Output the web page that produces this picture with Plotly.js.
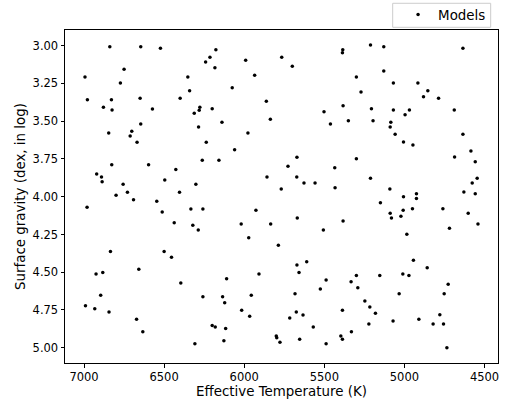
<!DOCTYPE html>
<html>
<head>
<meta charset="utf-8">
<script src="https://cdn.plot.ly/plotly-3.0.1.min.js"></script>
<style>html,body{margin:0;padding:0;background:#fff;}#chart{width:507px;height:403px;}</style>
</head>
<body>
<div id="chart"></div>
<script>
// Effective temperature (K) of each model
const teff = [
  6839, 6646, 6523, 6214, 6241, 6183, 6750, 6994, 6352, 6773,
  6341, 6979, 6829, 6650, 6400, 6879, 6825, 6573, 6277, 6281,
  6312, 6200, 6646, 6285, 6846, 6702, 6712, 6669, 6237, 6262,
  6827, 6597, 6427, 6921, 6891, 6887, 6756, 6496, 6302,
  6800, 6729, 6691, 6404, 6981, 6546, 6512, 6333, 6258, 6437,
  6321, 6287, 6835, 6500, 6454, 6925, 6883, 6658, 6396, 6896,
  6258, 6991, 6933, 6844, 6672, 6633, 6200, 6308,
  6177, 5991, 5766, 5700, 5385, 5387, 5935, 6075, 5862, 5502,
  5383, 6139, 5837, 5462, 5350, 5977, 6060, 6158, 5671, 5727,
  5435, 5858, 5672, 5627, 5558, 5769, 5433,
  5927, 6019, 5835, 5669, 5383, 5506, 5972, 5787, 5671, 5610,
  5658, 6110, 5908, 5489, 5333, 6135, 6122, 5956, 5683, 5525,
  6016, 5966, 5675, 5633, 5716, 5387, 6181, 6116, 5569, 6127,
  5800, 5797, 5777, 5654, 5489, 5397, 5387, 5331,
  5212, 5129, 4635, 5129, 5300, 5069, 4916, 5271, 4854, 4881,
  4787, 5206, 5069, 4969, 4996, 4689, 5196, 5085, 5089, 5058,
  4635, 5006, 4947, 5300, 4687, 4585, 4558, 5212, 4546, 4577, 5091,
  5006, 4925, 4925, 4629, 4558, 5150, 5089, 5081, 5008, 5022,
  4950, 4760, 4602, 4541, 4719, 4985, 4944, 4858, 5300, 5291,
  5154, 5010, 4972, 4727, 4752, 5033, 5247, 5216, 5181, 5222,
  5071, 4910, 4779, 4821, 4756, 4735
];
// Surface gravity (dex, log g) of each model
const logg = [
  3.007, 3.007, 3.017, 3.077, 3.108, 3.146, 3.156, 3.207, 3.207, 3.247,
  3.298, 3.358, 3.358, 3.348, 3.348, 3.408, 3.426, 3.419, 3.408, 3.428,
  3.448, 3.417, 3.519, 3.538, 3.578, 3.567, 3.598, 3.640, 3.640, 3.759,
  3.788, 3.788, 3.819, 3.850, 3.870, 3.901, 3.918, 3.889, 3.918,
  3.991, 3.971, 4.020, 3.971, 4.070, 4.030, 4.101, 4.081, 4.081, 4.172,
  4.189, 4.221, 4.362, 4.362, 4.401, 4.512, 4.501, 4.481, 4.572, 4.653,
  4.662, 4.722, 4.742, 4.764, 4.812, 4.894, 4.852, 4.974,
  3.026, 3.097, 3.077, 3.136, 3.026, 3.046, 3.196, 3.278, 3.368, 3.437,
  3.397, 3.507, 3.487, 3.519, 3.497, 3.578, 3.689, 3.759, 3.739, 3.799,
  3.808, 3.870, 3.870, 3.909, 3.909, 3.949, 3.940,
  4.090, 4.181, 4.181, 4.141, 4.161, 4.221, 4.272, 4.322, 4.452, 4.430,
  4.501, 4.543, 4.512, 4.552, 4.563, 4.662, 4.702, 4.653, 4.642, 4.611,
  4.752, 4.792, 4.764, 4.783, 4.803, 4.752, 4.863, 4.872, 4.863, 4.954,
  4.923, 4.934, 4.964, 4.944, 4.974, 4.923, 4.944, 4.894,
  2.995, 3.007, 3.017, 3.168, 3.207, 3.247, 3.247, 3.307, 3.298, 3.338,
  3.348, 3.417, 3.426, 3.426, 3.457, 3.426, 3.497, 3.507, 3.538, 3.587,
  3.587, 3.638, 3.658, 3.748, 3.737, 3.697, 3.768, 3.878, 3.878, 3.909, 3.949,
  4.000, 3.980, 4.011, 3.969, 3.980, 4.040, 4.110, 4.141, 4.090, 4.130,
  4.079, 4.079, 4.110, 4.181, 4.209, 4.249, 4.421, 4.470, 4.521, 4.603,
  4.521, 4.512, 4.521, 4.580, 4.642, 4.642, 4.691, 4.730, 4.772, 4.843,
  4.823, 4.812, 4.781, 4.843, 4.843, 5.000
];
const xTicks = [7000, 6500, 6000, 5500, 5000, 4500];
const yTicks = [3.00, 3.25, 3.50, 3.75, 4.00, 4.25, 4.50, 4.75, 5.00];
const seriesName = 'Models';
const xLabel = 'Effective Temperature (K)';
const yLabel = 'Surface gravity (dex, in log)';

const FONT = 'DejaVu Sans, Liberation Sans, sans-serif';

const trace = {
  x: teff,
  y: logg,
  type: 'scatter',
  mode: 'markers',
  name: seriesName,
  marker: {color: '#000000', size: 3.5, line: {width: 0}},
  showlegend: true,
  hoverinfo: 'x+y'
};

const axisCommon = {
  showgrid: false,
  zeroline: false,
  showline: true,
  mirror: true,
  linecolor: '#000000',
  linewidth: 1,
  ticks: 'outside',
  ticklen: 3.5,
  tickwidth: 1,
  tickcolor: '#000000',
  automargin: false,
  tickfont: {family: FONT, size: 11.5, color: '#000000'}
};

const layout = {
  width: 507,
  height: 403,
  margin: {l: 65, r: 9, t: 30, b: 40, pad: 0, autoexpand: false},
  paper_bgcolor: '#ffffff',
  plot_bgcolor: '#ffffff',
  font: {family: FONT, color: '#000000'},
  xaxis: Object.assign({}, axisCommon, {
    range: [7118.75, 4416],
    tickvals: xTicks,
    ticktext: xTicks.map(String),
    title: {text: xLabel, font: {family: FONT, size: 13.4, color: '#000000'}, standoff: 2}
  }),
  yaxis: Object.assign({}, axisCommon, {
    range: [5.101, 2.896],
    tickvals: yTicks,
    ticktext: yTicks.map(v => v.toFixed(2)),
    title: {text: yLabel, font: {family: FONT, size: 13.4, color: '#000000'}, standoff: 3}
  }),
  showlegend: true,
  legend: {
    x: 0.984, xanchor: 'right',
    y: 1.046, yanchor: 'middle',
    bgcolor: 'rgba(0,0,0,0)',
    borderwidth: 0,
    font: {family: FONT, size: 13.4, color: '#000000'}
  },
  shapes: [{
    type: 'rect', xref: 'paper', yref: 'paper',
    x0: 0.7568, x1: 0.9831, y0: 1.0081, y1: 1.0802,
    line: {color: '#cccccc', width: 1},
    fillcolor: 'rgba(0,0,0,0)',
    layer: 'below'
  }]
};

Plotly.newPlot('chart', [trace], layout, {staticPlot: true, displayModeBar: false});
</script>
</body>
</html>
